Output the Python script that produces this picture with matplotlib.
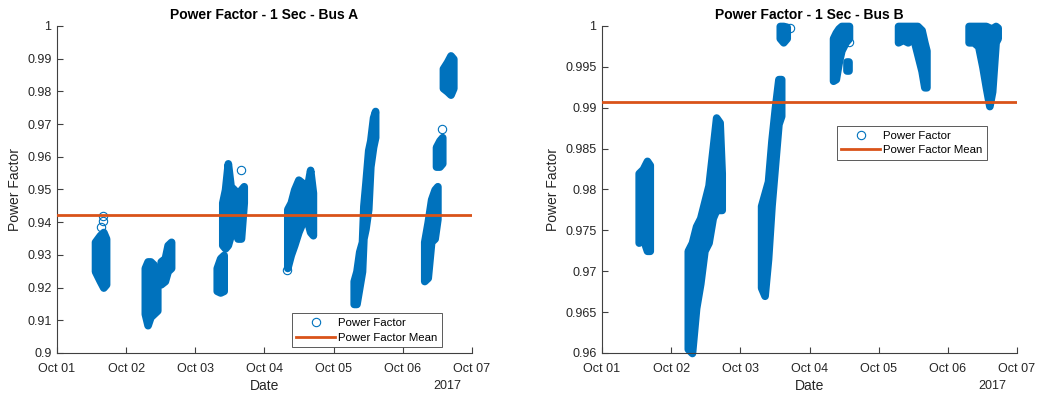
import datetime as dt
import matplotlib
matplotlib.use('Agg')
import matplotlib.pyplot as plt
import matplotlib.dates as mdates
from matplotlib.lines import Line2D

plt.rcParams['font.family'] = ['Liberation Sans', 'DejaVu Sans']

BLUE = '#0072BD'
ORANGE = '#D95319'
AX_COLOR = '#404040'

# each cluster of 1-sec samples: day offsets from Oct 01 and the low / high envelope
bus_a_days = [
    [0.55, 0.62, 0.67, 0.71],
    [1.27, 1.31, 1.35, 1.40, 1.45],
    [1.50, 1.56, 1.60, 1.65],
    [2.31, 2.36, 2.41],
    [2.39, 2.43, 2.47, 2.51, 2.56, 2.61, 2.66, 2.70],
    [3.33, 3.38, 3.43, 3.49, 3.55, 3.61, 3.66, 3.70],
    [4.29, 4.33, 4.37, 4.41, 4.43, 4.46, 4.50, 4.53, 4.57, 4.60],
    [5.31, 5.36, 5.41, 5.46, 5.50],
    [5.48, 5.53, 5.57],
    [5.58, 5.64, 5.69, 5.73],
]
bus_a_lo = [
    [0.925, 0.922, 0.920, 0.921],
    [0.912, 0.9085, 0.911, 0.912, 0.913],
    [0.921, 0.922, 0.925, 0.926],
    [0.919, 0.9185, 0.919],
    [0.933, 0.932, 0.933, 0.936, 0.940, 0.935, 0.935, 0.946],
    [0.926, 0.930, 0.933, 0.937, 0.940, 0.941, 0.937, 0.936],
    [0.915, 0.915, 0.920, 0.925, 0.935, 0.938, 0.944, 0.957, 0.963, 0.966],
    [0.922, 0.923, 0.934, 0.935, 0.941],
    [0.957, 0.957, 0.958],
    [0.981, 0.980, 0.979, 0.981],
]
bus_a_hi = [
    [0.934, 0.936, 0.937, 0.935],
    [0.926, 0.928, 0.928, 0.927, 0.921],
    [0.928, 0.929, 0.933, 0.934],
    [0.926, 0.929, 0.930],
    [0.946, 0.950, 0.958, 0.951, 0.950, 0.948, 0.950, 0.951],
    [0.944, 0.946, 0.950, 0.953, 0.952, 0.950, 0.956, 0.949],
    [0.922, 0.925, 0.931, 0.934, 0.945, 0.952, 0.962, 0.965, 0.972, 0.974],
    [0.934, 0.940, 0.947, 0.950, 0.951],
    [0.963, 0.965, 0.966],
    [0.987, 0.989, 0.991, 0.990],
]
bus_a_single_days = [0.66, 0.66, 0.64, 1.46, 2.66, 3.33, 5.56]
bus_a_single_pf = [0.942, 0.9405, 0.9385, 0.9215, 0.956, 0.9255, 0.9685]
bus_a_mean = 0.9422

bus_b_days = [
    [0.53, 0.59, 0.65, 0.69],
    [1.24, 1.30, 1.36, 1.42, 1.48, 1.54, 1.60, 1.65, 1.70, 1.73],
    [2.30, 2.35, 2.40, 2.45, 2.50, 2.55, 2.59],
    [2.57, 2.62, 2.67],
    [3.34, 3.38, 3.42, 3.46, 3.52, 3.57],
    [3.54, 3.57],
    [4.28, 4.35, 4.42, 4.50, 4.56, 4.62, 4.66, 4.69],
    [5.30, 5.37, 5.44, 5.50, 5.55, 5.60, 5.64, 5.69, 5.72],
]
bus_b_lo = [
    [0.9735, 0.974, 0.9725, 0.9725],
    [0.9605, 0.960, 0.9655, 0.9685, 0.9725, 0.9735, 0.9765, 0.9775, 0.9775, 0.9775],
    [0.968, 0.967, 0.9715, 0.978, 0.983, 0.988, 0.989],
    [0.9985, 0.998, 0.9985],
    [0.9933, 0.9935, 0.9955, 0.997, 0.998, 0.9985],
    [0.9945, 0.9945],
    [0.998, 0.9983, 0.998, 0.9985, 0.9965, 0.9945, 0.9925, 0.9925],
    [0.998, 0.998, 0.9975, 0.995, 0.9925, 0.9902, 0.992, 0.998, 0.9985],
]
bus_b_hi = [
    [0.982, 0.9825, 0.9835, 0.983],
    [0.9725, 0.9735, 0.9755, 0.9765, 0.9785, 0.9805, 0.985, 0.9888, 0.9882, 0.982],
    [0.978, 0.9795, 0.981, 0.986, 0.990, 0.9935, 0.9935],
    [1.0, 1.0, 0.9999],
    [0.9985, 0.9992, 0.9997, 1.0, 1.0, 1.0],
    [0.9956, 0.9956],
    [1.0, 1.0, 1.0, 1.0, 1.0, 0.9995, 0.998, 0.997],
    [1.0, 1.0, 1.0, 1.0, 1.0, 0.9998, 0.9997, 1.0, 0.9998],
]
bus_b_single_days = [2.72, 3.57]
bus_b_single_pf = [0.9998, 0.9981]
bus_b_mean = 0.99071

day0 = mdates.date2num(dt.datetime(2017, 10, 1))
date_ticks = [day0 + i for i in range(7)]


def draw(ax, title, days, lo, hi, sd, spf, mean, ylim, yticks, ytick_labels, legend_anchor, legend_loc):
    for d, l, h in zip(days, lo, hi):
        x = [day0 + v for v in d]
        ax.fill_between(x, l, h, facecolor=BLUE, edgecolor=BLUE, linewidth=5.5,
                        joinstyle='round', capstyle='round', clip_on=False, zorder=2)
    ax.plot([day0 + v for v in sd], spf, 'o', mfc='none', mec=BLUE, ms=6, mew=0.8,
            clip_on=False, zorder=3)
    ax.plot([day0, day0 + 6], [mean, mean], color=ORANGE, lw=2, zorder=4)

    ax.set_xlim(day0, day0 + 6)
    ax.set_ylim(*ylim)
    ax.set_xticks(date_ticks)
    ax.xaxis.set_major_formatter(mdates.DateFormatter('%b %d'))
    ax.set_yticks(yticks)
    ax.set_yticklabels(ytick_labels)
    ax.tick_params(direction='in', length=4, width=0.8, colors=AX_COLOR,
                   labelsize=9, labelcolor='#262626')
    ax.tick_params(axis='x', pad=7)
    ax.tick_params(axis='y', pad=4)
    for s in ['top', 'right']:
        ax.spines[s].set_visible(False)
    for s in ['left', 'bottom']:
        ax.spines[s].set_color(AX_COLOR)
        ax.spines[s].set_linewidth(0.8)

    ax.set_title(title, fontsize=10, fontweight='bold', pad=5)
    ax.set_xlabel('Date', fontsize=10, color='#262626', labelpad=3)
    ax.set_ylabel('Power Factor', fontsize=10, color='#262626', labelpad=4)
    ax.text(0.94, -0.082, '2017', transform=ax.transAxes, ha='center', va='top',
            fontsize=9, color='#262626')

    handles = [
        Line2D([], [], ls='none', marker='o', mfc='none', mec=BLUE, ms=6, mew=0.8),
        Line2D([], [], color=ORANGE, lw=2),
    ]
    leg = ax.legend(handles, ['Power Factor', 'Power Factor Mean'], loc=legend_loc,
                    bbox_to_anchor=legend_anchor, fontsize=8.2, handlelength=3.4,
                    handletextpad=0.3, borderpad=0.4, labelspacing=0.4,
                    fancybox=False, framealpha=1, borderaxespad=0)
    leg.get_frame().set_edgecolor(AX_COLOR)
    leg.get_frame().set_linewidth(0.6)


fig = plt.figure(figsize=(10.38, 3.96), dpi=100)
ax1 = fig.add_axes([0.0549, 0.1086, 0.3998, 0.8258])
ax2 = fig.add_axes([0.58, 0.1086, 0.3998, 0.8258])

ya = [0.9 + 0.01 * i for i in range(11)]
ya_labels = ['0.9'] + ['%.2f' % v for v in ya[1:-1]] + ['1']
draw(ax1, 'Power Factor - 1 Sec - Bus A', bus_a_days, bus_a_lo, bus_a_hi,
     bus_a_single_days, bus_a_single_pf, bus_a_mean, (0.9, 1.0), ya, ya_labels,
     (0.928, 0.018), 'lower right')

yb = [0.96 + 0.005 * i for i in range(9)]
yb_labels = ['%g' % round(v, 3) for v in yb]
draw(ax2, 'Power Factor - 1 Sec - Bus B', bus_b_days, bus_b_lo, bus_b_hi,
     bus_b_single_days, bus_b_single_pf, bus_b_mean, (0.96, 1.0), yb, yb_labels,
     (0.928, 0.694), 'upper right')

fig.savefig('out.png', dpi=100)
